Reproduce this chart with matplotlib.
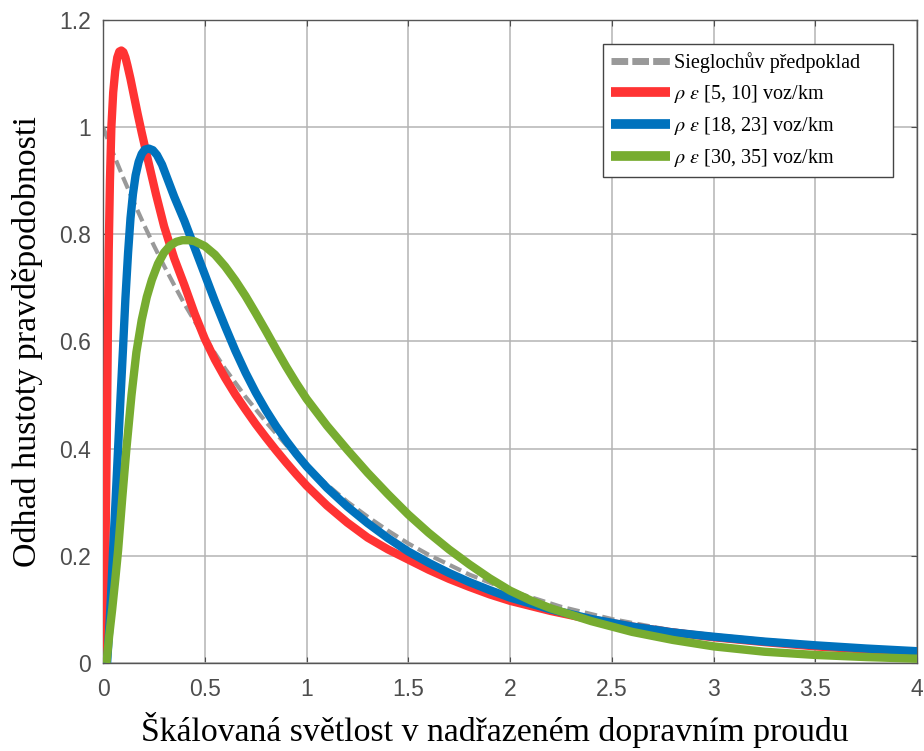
import numpy as np
import matplotlib.pyplot as plt

# values
x_gray = [0.0, 0.05, 0.1, 0.15, 0.2, 0.25, 0.3, 0.35, 0.4, 0.45, 0.5, 0.6, 0.7, 0.8, 0.9,
          1.0, 1.1, 1.2, 1.3, 1.4, 1.5, 1.6, 1.8, 2.0, 2.25, 2.5, 2.75, 3.0, 3.5, 4.0]
y_gray = [1.0, 0.951, 0.905, 0.861, 0.819, 0.779, 0.741, 0.705, 0.67, 0.638, 0.607, 0.549,
          0.497, 0.45, 0.407, 0.368, 0.333, 0.301, 0.273, 0.247, 0.223, 0.202, 0.165, 0.135,
          0.105, 0.082, 0.064, 0.05, 0.03, 0.018]

x_red = [0.0, 0.005, 0.012, 0.018, 0.023, 0.028, 0.034, 0.041, 0.05, 0.06, 0.07, 0.08,
         0.09, 0.1, 0.11, 0.12, 0.135, 0.15, 0.17, 0.19, 0.22, 0.26, 0.3, 0.35, 0.4, 0.45,
         0.5, 0.55, 0.6, 0.65, 0.7, 0.75, 0.8, 0.85, 0.9, 0.95, 1.0, 1.1, 1.2, 1.3, 1.4,
         1.5, 1.6, 1.7, 1.8, 1.9, 2.0, 2.2, 2.4, 2.6, 2.8, 3.0, 3.25, 3.5, 3.75, 4.0]
y_red = [0.0, 0.08, 0.21, 0.40, 0.585, 0.77, 0.90, 1.0, 1.065, 1.105, 1.13, 1.141,
         1.143, 1.14, 1.13, 1.115, 1.09, 1.062, 1.025, 0.99, 0.94, 0.875, 0.815, 0.755, 0.705, 0.652,
         0.605, 0.566, 0.532, 0.501, 0.473, 0.446, 0.421, 0.397, 0.374, 0.352, 0.331, 0.294, 0.262, 0.234, 0.212,
         0.193, 0.174, 0.157, 0.142, 0.128, 0.116, 0.097, 0.081, 0.068, 0.057, 0.048, 0.039, 0.031, 0.025, 0.02]

x_blue = [0.02, 0.03, 0.04, 0.05, 0.06, 0.074, 0.086, 0.098, 0.11, 0.123, 0.135, 0.147,
          0.16, 0.175, 0.19, 0.205, 0.225, 0.245, 0.265, 0.29, 0.32, 0.35, 0.4, 0.45, 0.5,
          0.55, 0.6, 0.65, 0.7, 0.75, 0.8, 0.85, 0.9, 0.95, 1.0, 1.1, 1.2, 1.3, 1.4, 1.5,
          1.6, 1.7, 1.8, 1.9, 2.0, 2.2, 2.4, 2.6, 2.8, 3.0, 3.25, 3.5, 3.75, 4.0]
y_blue = [0.0, 0.06, 0.13, 0.215, 0.29, 0.40, 0.495, 0.585, 0.68, 0.765, 0.83, 0.875,
          0.91, 0.935, 0.95, 0.958, 0.96, 0.957, 0.948, 0.93, 0.90, 0.87, 0.825, 0.775, 0.725,
          0.675, 0.628, 0.583, 0.542, 0.505, 0.472, 0.442, 0.415, 0.39, 0.367, 0.327, 0.292, 0.261, 0.233, 0.208,
          0.187, 0.168, 0.151, 0.136, 0.122, 0.1, 0.082, 0.068, 0.057, 0.049, 0.04, 0.033, 0.027, 0.022]

x_green = [0.017, 0.03, 0.045, 0.06, 0.074, 0.095, 0.115, 0.14, 0.164, 0.19, 0.215, 0.24,
           0.27, 0.3, 0.33, 0.36, 0.39, 0.42, 0.45, 0.5, 0.55, 0.6, 0.65, 0.7, 0.75, 0.8,
           0.85, 0.9, 0.95, 1.0, 1.1, 1.2, 1.3, 1.4, 1.5, 1.6, 1.7, 1.8, 1.9, 2.0, 2.1,
           2.2, 2.4, 2.6, 2.8, 3.0, 3.25, 3.5, 3.75, 4.0]
y_green = [0.0, 0.05, 0.10, 0.155, 0.21, 0.31, 0.40, 0.50, 0.58, 0.64, 0.683, 0.715,
           0.745, 0.766, 0.779, 0.786, 0.789, 0.789, 0.787, 0.778, 0.762, 0.74, 0.714, 0.685, 0.653, 0.62,
           0.586, 0.553, 0.522, 0.493, 0.443, 0.398, 0.355, 0.315, 0.277, 0.243, 0.212, 0.184, 0.158, 0.135, 0.117,
           0.102, 0.078, 0.058, 0.043, 0.031, 0.021, 0.015, 0.011, 0.008]

labels = ["Sieglochův předpoklad",
          r"$\rho\ \epsilon$ [5, 10] voz/km",
          r"$\rho\ \epsilon$ [18, 23] voz/km",
          r"$\rho\ \epsilon$ [30, 35] voz/km"]

plt.rcParams['mathtext.fontset'] = 'stix'

fig = plt.figure(figsize=(9.24, 7.51), dpi=100)
ax = fig.add_axes([0.1115, 0.1172, 0.881, 0.8562])

kw = dict(solid_joinstyle='round', solid_capstyle='butt')
ax.plot(x_gray, y_gray, color='#999999', lw=3, dashes=(3, 1.3), label=labels[0], zorder=2)
ax.plot(x_red, y_red, color='#ff3333', lw=6, label=labels[1], zorder=3, **kw)
ax.plot(x_blue, y_blue, color='#0072bd', lw=6, label=labels[2], zorder=4, **kw)
ax.plot(x_green, y_green, color='#77ac30', lw=6, label=labels[3], zorder=5, **kw)

ax.set_xlim(0, 4)
ax.set_ylim(0, 1.2)
ax.set_xticks([0, 0.5, 1, 1.5, 2, 2.5, 3, 3.5, 4])
ax.set_xticklabels(['0', '0.5', '1', '1.5', '2', '2.5', '3', '3.5', '4'])
ax.set_yticks([0, 0.2, 0.4, 0.6, 0.8, 1.0, 1.2])
ax.set_yticklabels(['0', '0.2', '0.4', '0.6', '0.8', '1', '1.2'])
ax.grid(True, color='#b4b4b4', lw=1.1)
ax.set_axisbelow(True)
ax.tick_params(direction='in', length=4, top=True, right=True, colors='#4d4d4d',
               labelsize=16.5)
ax.tick_params(axis='x', pad=11)
ax.tick_params(axis='y', pad=9)
for lab in ax.get_xticklabels() + ax.get_yticklabels():
    lab.set_family('Liberation Sans')
for s in ax.spines.values():
    s.set_color('#555555')
    s.set_linewidth(1.0)

ax.set_xlabel("Škálovaná světlost v nadřazeném dopravním proudu",
              family='Liberation Serif', fontsize=24.3)
ax.xaxis.set_label_coords(0.4816, -0.076)
ax.set_ylabel("Odhad hustoty pravděpodobnosti",
              family='Liberation Serif', fontsize=24.5, labelpad=11)

# legend box is wider than its content, as in the reference
leg = ax.legend(loc='upper left', bbox_to_anchor=(0.6143, 0.5, 0.3563, 0.4627),
                mode='expand', borderaxespad=0,
                fancybox=False, edgecolor='#444444', handlelength=2.9, handletextpad=0.2,
                labelspacing=0.5, borderpad=0.4,
                prop={'family': 'Liberation Serif', 'size': 14.5})
leg.get_frame().set_linewidth(1.0)
leg.get_frame().set_alpha(1)
hl = leg.get_lines()
hl[0].set_linewidth(5)
hl[0].set_dashes((2.4, 0.6))
for h in hl[1:]:
    h.set_linewidth(7)

fig.savefig('out.png', dpi=100)
